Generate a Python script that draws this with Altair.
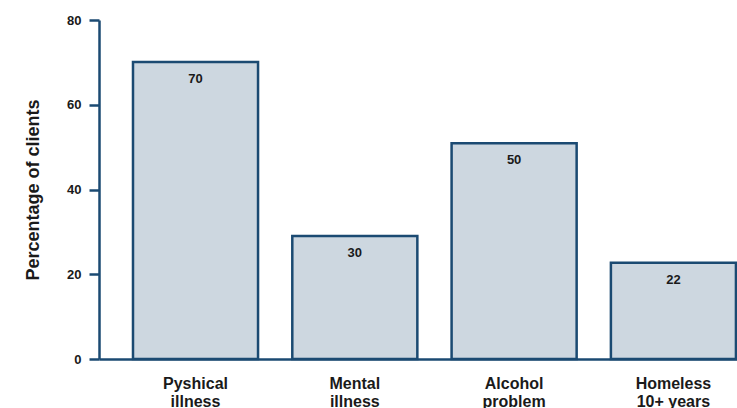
import altair as alt
import pandas as pd

categories = ["Pyshical\nillness", "Mental\nillness", "Alcohol\nproblem", "Homeless\n10+ years"]
bar_values = [70.1, 29.0, 50.9, 22.7]
label_texts = ["70", "30", "50", "22"]

df = pd.DataFrame({"cat": categories, "value": bar_values, "label": label_texts})

FONT = "Liberation Sans"
DARK = "#1b4a72"
FILL = "#cdd7e0"
TXT = "#1a1a1a"

x = alt.X("cat:N", sort=categories, title=None,
          scale=alt.Scale(paddingInner=0.215, paddingOuter=0.11, align=0.97),
          axis=alt.Axis(labelAngle=0, ticks=False, tickSize=0, labelPadding=16, grid=False,
                        labelFont=FONT, labelFontSize=16, labelFontWeight="bold",
                        labelColor=TXT, labelLineHeight=18.5,
                        labelExpr="split(datum.label, '\\n')",
                        domainColor=DARK, domainWidth=2.5))
y = alt.Y("value:Q", title="Percentage of clients",
          scale=alt.Scale(domain=[0, 80], nice=False),
          axis=alt.Axis(values=[0, 20, 40, 60, 80], grid=False, tickSize=10,
                        tickColor=DARK, tickWidth=2.5, domainColor=DARK, domainWidth=2.5,
                        labelFont=FONT, labelFontSize=13, labelFontWeight="bold",
                        labelColor=TXT, labelPadding=8,
                        titleFont=FONT, titleFontSize=18, titleFontWeight="bold",
                        titleColor=TXT, titlePadding=24))

bars = alt.Chart(df).mark_bar(fill=FILL, stroke=DARK, strokeWidth=2.5).encode(x=x, y=y)
texts = alt.Chart(df).mark_text(font=FONT, fontSize=13, fontWeight="bold", color=TXT,
                                baseline="middle", dy=17).encode(
    x=alt.X("cat:N", sort=categories), y="value:Q", text="label:N")

chart = alt.layer(bars, texts).properties(
    width=638, height=339,
    autosize=alt.AutoSizeParams(type="none"),
    padding={"left": 99, "top": 20, "right": 0, "bottom": 49},
    background="white",
).configure_view(stroke=None, strokeWidth=0)

chart.save("out.html", embed_options={"renderer": "svg", "actions": False})
